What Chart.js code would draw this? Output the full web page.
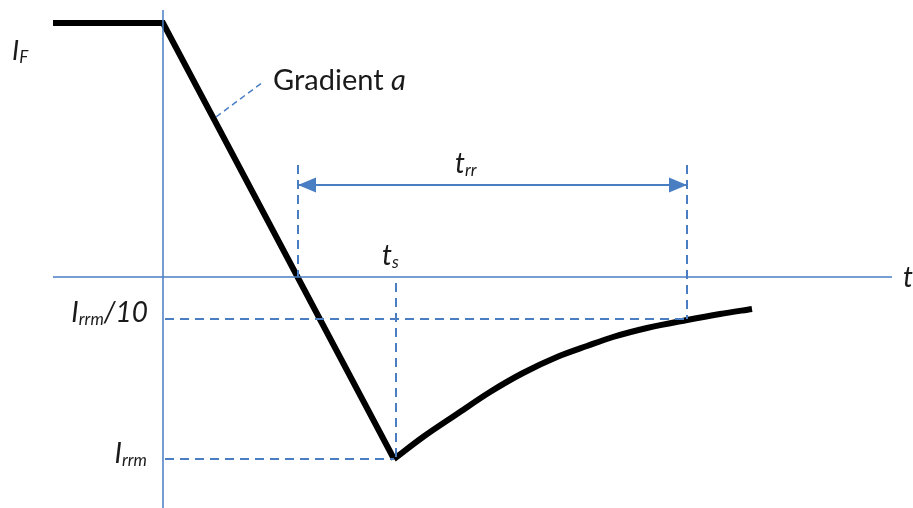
<!DOCTYPE html>
<html>
<head>
<meta charset="utf-8">
<script src="https://cdn.jsdelivr.net/npm/chart.js@4/dist/chart.umd.min.js"></script>
<style>
  html, body { margin: 0; padding: 0; background: #fff; }
  #wrap { width: 913px; height: 508px; }
</style>
</head>
<body>
<div id="wrap"><canvas id="recoveryChart" width="913" height="508"></canvas></div>
<script>
// ===== Data (schematic units: time t, current I) =====
const T_START   = -11;     // forward current starts
const T_SWITCH  = 0;       // current starts to fall
const T_ZERO    = 13.5;    // current crosses zero (start of t_rr)
const T_S       = 23.1;    // peak reverse current
const T_RR_END  = 52.4;    // end of t_rr
const IF_LEVEL  = 25.4;
const IRRM      = -18.2;
const IRRM_10   = -4.2;

// fall: I_F plateau then linear ramp down to I_rrm
const fallT = [T_START, T_SWITCH, T_S];
const fallI = [IF_LEVEL, IF_LEVEL, IRRM];

// recovery tail
const recoveryT = [23.1, 26.0, 29.4, 32.7, 36.0, 39.4, 42.4, 45.0, 48.4, 52.4, 55.7, 58.9];
const recoveryI = [-18.2, -16.0, -13.7, -11.5, -9.6, -8.0, -6.9, -6.0, -5.1, -4.3, -3.7, -3.2];

// axes extents
const axisT = [-11, 72.9];
const axisI = [26.7, -23.1];

// guide levels
const TRR_ARROW_I = 9.2;
const GUIDE_TOP_I = 11.2;
const TS_GUIDE_TOP = -0.6;
const gradientLeaderT = [5.3, 10.0];
const gradientLeaderI = [16.0, 19.5];

// ===== Helpers =====
const BLUE = '#4a7ec3';
const pts = (xs, ys) => xs.map((x, i) => ({ x, y: ys[i] }));
const seg = (x1, y1, x2, y2) => [{ x: x1, y: y1 }, { x: x2, y: y2 }];

function lineDs(data, color, width, dash, extra = {}) {
  return Object.assign({
    data, borderColor: color, backgroundColor: color, borderWidth: width,
    borderDash: dash || [], pointRadius: 0, showLine: true, fill: false,
    tension: 0, borderCapStyle: 'butt', borderJoinStyle: 'miter'
  }, extra);
}

// labels: parts = [text, style] ; style: 'I' italic, 'sub' italic subscript, 'n' normal
const FONT = 'Lato, "Open Sans", sans-serif';
const labels = [
  { t: -15.1, i: 21.7, align: 'left',  size: 27, parts: [['I', 'I'], ['F', 'sub']] },
  { t: 11.0,  i: 18.7, align: 'left',  size: 29, parts: [['Gradient ', 'n'], ['a', 'I']] },
  { t: 29.2,  i: 10.4, align: 'left',  size: 28, parts: [['t', 'I'], ['rr', 'sub']] },
  { t: 21.9,  i: 1.2,  align: 'left',  size: 28, parts: [['t', 'I'], ['s', 'sub']] },
  { t: 74.0,  i: -1.0, align: 'left',  size: 28, parts: [['t', 'I']] },
  { t: -1.5,  i: -4.5, align: 'right', size: 28, parts: [['I', 'I'], ['rrm', 'sub'], ['/10', 'I']] },
  { t: -1.6,  i: -18.6, align: 'right', size: 28, parts: [['I', 'I'], ['rrm', 'sub']] }
];

function fontFor(style, size) {
  if (style === 'sub') return `italic ${Math.round(size * 0.62)}px ${FONT}`;
  if (style === 'I') return `italic ${size}px ${FONT}`;
  return `${size}px ${FONT}`;
}

const labelPlugin = {
  id: 'richLabels',
  afterDraw(chart) {
    const { ctx, scales: { x, y } } = chart;
    ctx.save();
    ctx.fillStyle = '#1a1a1a';
    ctx.textBaseline = 'alphabetic';
    ctx.textAlign = 'left';
    labels.forEach(lb => {
      const widths = lb.parts.map(([txt, st]) => { ctx.font = fontFor(st, lb.size); return ctx.measureText(txt).width; });
      const total = widths.reduce((a, b) => a + b, 0);
      let px = x.getPixelForValue(lb.t);
      const py = y.getPixelForValue(lb.i);
      if (lb.align === 'right') px -= total;
      lb.parts.forEach(([txt, st], k) => {
        ctx.font = fontFor(st, lb.size);
        ctx.fillText(txt, px, st === 'sub' ? py + lb.size * 0.12 : py);
        px += widths[k];
      });
    });
    ctx.restore();
  }
};

// arrowheads on both ends of datasets flagged arrowHeads
const arrowPlugin = {
  id: 'arrowHeads',
  // tips sit on the dashed guides
  beforeDatasetsDraw(chart) {
    chart.data.datasets.forEach((ds, di) => {
      if (!ds.arrowHeads) return;
      const els = chart.getDatasetMeta(di).data;
      els[0].x = chart.scales.x.getPixelForValue(T_ZERO);
      els[els.length - 1].x = chart.scales.x.getPixelForValue(T_RR_END);
    });
  },
  afterDatasetsDraw(chart) {
    const { ctx } = chart;
    chart.data.datasets.forEach((ds, di) => {
      if (!ds.arrowHeads) return;
      const els = chart.getDatasetMeta(di).data;
      const a = els[0], b = els[els.length - 1];
      const head = (tip, from) => {
        const ang = Math.atan2(tip.y - from.y, tip.x - from.x);
        const L = 18, W = 7.5;
        ctx.beginPath();
        ctx.moveTo(tip.x, tip.y);
        ctx.lineTo(tip.x - L * Math.cos(ang) + W * Math.sin(ang), tip.y - L * Math.sin(ang) - W * Math.cos(ang));
        ctx.lineTo(tip.x - L * Math.cos(ang) - W * Math.sin(ang), tip.y - L * Math.sin(ang) + W * Math.cos(ang));
        ctx.closePath();
        ctx.fill();
      };
      ctx.save();
      ctx.fillStyle = ds.borderColor;
      head(a, b);
      head(b, a);
      ctx.restore();
    });
  }
};

const DASH = [9, 6];
const datasets = [
  // axes
  lineDs(seg(axisT[0], 0, axisT[1], 0), BLUE, 1.5),
  lineDs(seg(0, axisI[0], 0, axisI[1]), BLUE, 1.5),
  // guides
  lineDs(seg(0.2, IRRM_10, T_RR_END, IRRM_10), BLUE, 2, DASH),
  lineDs(seg(0.2, IRRM, T_S, IRRM), BLUE, 2, DASH),
  lineDs(seg(T_S + 0.2, TS_GUIDE_TOP, T_S + 0.2, IRRM), BLUE, 2, DASH),
  lineDs(seg(T_ZERO, GUIDE_TOP_I, T_ZERO, 0), BLUE, 2, DASH),
  lineDs(seg(T_RR_END, GUIDE_TOP_I, T_RR_END, IRRM_10), BLUE, 2, DASH),
  lineDs(pts(gradientLeaderT, gradientLeaderI), BLUE, 1.5, [6, 4]),
  // t_rr arrow
  lineDs(seg(T_ZERO + 1.2, TRR_ARROW_I, T_RR_END - 1.2, TRR_ARROW_I), BLUE, 2, null, { arrowHeads: true }),
  // waveform
  lineDs(pts(fallT, fallI), '#000', 6),
  lineDs(pts(recoveryT, recoveryI), '#000', 6, null, { cubicInterpolationMode: 'monotone' })
];

new Chart(document.getElementById('recoveryChart').getContext('2d'), {
  type: 'scatter',
  data: { datasets },
  options: {
    responsive: false, animation: false, devicePixelRatio: 1,
    layout: { padding: 0 },
    plugins: { legend: { display: false }, tooltip: { enabled: false } },
    scales: {
      x: { type: 'linear', min: -16.3, max: 75.0, display: false },
      y: { type: 'linear', min: -23.1, max: 27.7, display: false }
    }
  },
  plugins: [arrowPlugin, labelPlugin]
});
</script>
</body>
</html>
